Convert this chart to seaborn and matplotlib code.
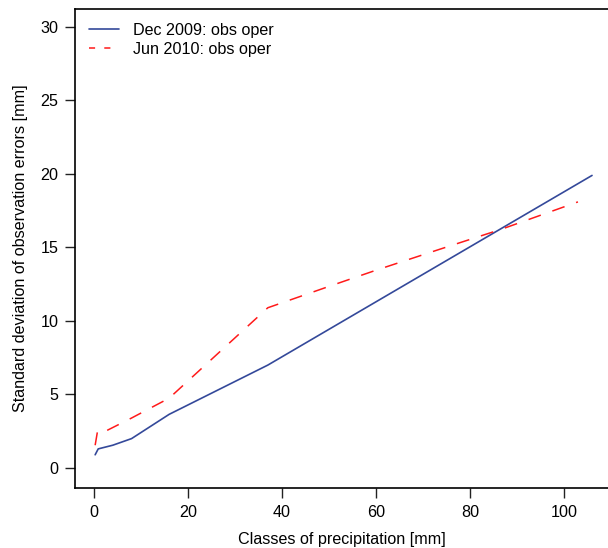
import matplotlib
matplotlib.use("Agg")
import matplotlib.pyplot as plt
import seaborn as sns
import pandas as pd

# Data
dec_x = [0.25, 0.9, 4.0, 8.0, 16.0, 37.0, 60.0, 106.0]
dec_y = [0.9, 1.3, 1.55, 2.0, 3.65, 7.0, 11.3, 19.9]
jun_x = [0.25, 0.75, 1.5, 8.0, 16.0, 37.0, 50.0, 60.0, 73.6, 86.7, 103.0]
jun_y = [1.55, 2.5, 2.35, 3.4, 4.75, 10.9, 12.35, 13.45, 14.88, 16.24, 18.1]
labels = ["Dec 2009: obs oper", "Jun 2010: obs oper"]
x_ticks = [0, 20, 40, 60, 80, 100]
y_ticks = [0, 5, 10, 15, 20, 25, 30]

sns.set_style("ticks")
plt.rcParams['font.family'] = ['Liberation Sans', 'DejaVu Sans']
plt.rcParams['text.color'] = 'black'
plt.rcParams['axes.labelcolor'] = 'black'
plt.rcParams['xtick.color'] = 'black'
plt.rcParams['ytick.color'] = 'black'

FS = 11.6
fig = plt.figure(figsize=(6.08, 5.48), dpi=100)
ax = fig.add_axes([75/608, 60/548, 1 - 75/608, 479/548])

df_dec = pd.DataFrame({"x": dec_x, "y": dec_y})
df_jun = pd.DataFrame({"x": jun_x, "y": jun_y})

sns.lineplot(data=df_dec, x="x", y="y", ax=ax, color="#34499a", lw=1.2,
             label=labels[0], sort=False)
sns.lineplot(data=df_jun, x="x", y="y", ax=ax, color="#ff1a1a", lw=1.1,
             label=labels[1], sort=False)
ax.lines[1].set_dashes((8.5, 8))

ax.set_xlim(-4.04, 109.4)
ax.set_ylim(-1.36, 31.22)
ax.set_xticks(x_ticks)
ax.set_yticks(y_ticks)
ax.tick_params(axis="both", direction="out", length=7, width=1, labelsize=FS,
               color="#222222", labelcolor="black", pad=5)
for s in ["left", "bottom", "top"]:
    ax.spines[s].set_visible(True)
    ax.spines[s].set_linewidth(1.2)
    ax.spines[s].set_color("black")
ax.spines["right"].set_visible(False)

ax.set_xlabel("Classes of precipitation [mm]", fontsize=FS, labelpad=9)
ax.set_ylabel("Standard deviation of observation errors [mm]", fontsize=FS, labelpad=9)

leg = ax.legend(loc="upper left", frameon=False, fontsize=FS, handlelength=1.9,
                handletextpad=0.85, borderaxespad=0.45, labelspacing=0.25)
leg.get_lines()[1].set_dashes((4, 6))

fig.savefig("out.png", dpi=100)
